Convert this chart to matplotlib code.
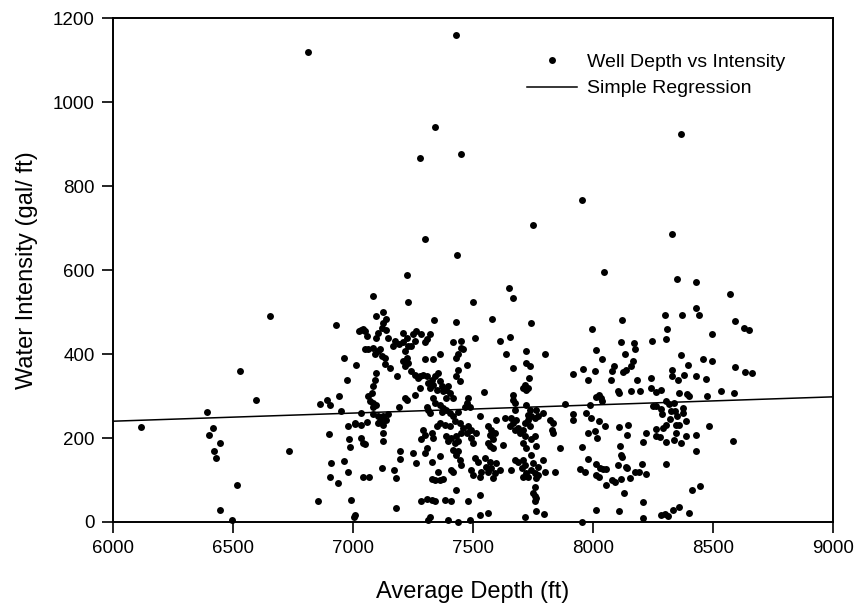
import numpy as np
import matplotlib
matplotlib.use('Agg')
import matplotlib.pyplot as plt

plt.rcParams['font.family'] = ['Liberation Sans', 'DejaVu Sans']

# (average depth ft, water intensity gal/ft)
shallow_wells = [
    (6815, 1120), (6654, 490), (6930, 468), (7026, 455), (6965, 391), (7014, 373),
    (6974, 339), (6530, 360), (6597, 290), (6393, 263), (6117, 226), (6418, 223),
    (6400, 208), (6447, 188), (6422, 168), (6428, 152), (6518, 89), (6446, 29),
    (6497, 4), (6732, 170), (6862, 281), (6892, 290), (6904, 278), (6942, 300),
    (6949, 264), (6899, 210), (6980, 228), (7010, 233), (6985, 198), (6990, 178),
    (6908, 141), (6964, 146), (6979, 119), (6903, 106), (6940, 94), (6855, 49),
    (6992, 53), (7010, 16), (7003, 12),
]
outliers = [
    (7432, 1160), (7342, 940), (7279, 866), (7451, 876), (7954, 767), (7751, 707),
    (7301, 673), (7435, 636), (7226, 589),
]
wells_7000 = [
    (7085, 539), (7230, 525), (7098, 491), (7126, 500), (7137, 484), (7126, 473),
    (7120, 463), (7043, 460), (7032, 457), (7057, 443), (7050, 455), (7105, 451),
    (7098, 439), (7140, 457), (7147, 439), (7175, 431), (7168, 420), (7193, 423),
    (7210, 428), (7217, 407), (7230, 419), (7050, 412), (7064, 411), (7085, 415),
    (7105, 407), (7092, 399), (7120, 396), (7133, 391), (7113, 412), (7133, 376),
    (7154, 367), (7182, 347), (7210, 383), (7217, 371), (7098, 355), (7092, 339),
    (7085, 323), (7078, 307), (7064, 299), (7071, 287), (7085, 283), (7082, 275),
    (7098, 279), (7217, 295), (7193, 274), (7035, 260), (7085, 256), (7105, 252),
    (7126, 252), (7147, 256), (7008, 236), (7036, 232), (7057, 237), (7113, 240),
    (7126, 232), (7105, 235), (7140, 244), (7126, 213), (7036, 201), (7043, 189),
    (7050, 185), (7126, 193), (7198, 169), (7198, 149), (7123, 128), (7043, 107),
    (7068, 108), (7171, 124), (7179, 105), (7179, 33),
]
wells_7250 = [
    (7499, 524), (7340, 481), (7428, 476), (7508, 439), (7210, 449), (7224, 439),
    (7251, 447), (7265, 455), (7258, 431), (7244, 419), (7286, 447), (7300, 428),
    (7307, 435), (7321, 447), (7418, 428), (7452, 431), (7459, 411), (7452, 415),
    (7438, 399), (7431, 391), (7224, 391), (7230, 379), (7300, 387), (7335, 387),
    (7363, 399), (7244, 359), (7258, 351), (7272, 343), (7279, 347), (7293, 351),
    (7307, 347), (7328, 339), (7314, 331), (7335, 327), (7342, 347), (7356, 355),
    (7363, 335), (7370, 323), (7349, 315), (7376, 311), (7390, 315), (7397, 323),
    (7404, 307), (7418, 295), (7390, 295), (7438, 363), (7431, 347), (7446, 335),
    (7474, 375), (7321, 319), (7279, 319), (7224, 291), (7258, 303), (7335, 295),
    (7342, 283), (7363, 279), (7376, 271), (7370, 263), (7390, 267), (7480, 295),
    (7474, 283), (7467, 275), (7488, 275), (7314, 267), (7321, 260), (7307, 275),
    (7404, 260), (7418, 252), (7438, 263), (7363, 236), (7349, 228), (7383, 232),
    (7404, 228), (7425, 240), (7446, 236), (7459, 224), (7480, 228), (7494, 220),
    (7474, 212), (7452, 212), (7293, 220), (7300, 208), (7286, 197), (7328, 212),
    (7335, 200), (7390, 204), (7397, 192), (7425, 188), (7438, 192), (7431, 204),
    (7411, 200), (7494, 200), (7501, 188), (7418, 172), (7431, 160), (7446, 148),
    (7452, 136), (7438, 168), (7307, 176), (7300, 164), (7251, 164), (7265, 140),
    (7328, 144), (7363, 156), (7418, 120), (7411, 124), (7494, 124), (7501, 112),
    (7356, 120), (7328, 102), (7342, 99), (7363, 100), (7376, 102), (7431, 76),
    (7286, 51), (7307, 54), (7328, 53), (7342, 49), (7383, 53), (7411, 50),
    (7480, 50), (7321, 13), (7314, 5), (7397, 5), (7438, 1), (7488, 5),
]
wells_7500 = [
    (7651, 558), (7668, 534), (7582, 483), (7744, 473), (7613, 431), (7654, 441),
    (7640, 399), (7723, 407), (7721, 379), (7738, 371), (7668, 367), (7717, 327),
    (7710, 319), (7735, 343), (7731, 319), (7723, 315), (7547, 309), (7668, 303),
    (7668, 291), (7675, 283), (7723, 279), (7738, 267), (7731, 255), (7744, 252),
    (7731, 244), (7717, 236), (7738, 228), (7765, 267), (7758, 248), (7772, 252),
    (7675, 267), (7661, 248), (7682, 244), (7668, 236), (7654, 228), (7689, 224),
    (7675, 220), (7696, 212), (7710, 220), (7529, 252), (7598, 244), (7633, 248),
    (7515, 212), (7563, 228), (7577, 220), (7570, 208), (7592, 212), (7585, 197),
    (7563, 188), (7570, 180), (7585, 176), (7626, 184), (7717, 204), (7710, 188),
    (7723, 176), (7744, 197), (7758, 204), (7765, 181), (7508, 153), (7522, 144),
    (7550, 153), (7570, 144), (7556, 132), (7577, 128), (7592, 116), (7563, 120),
    (7598, 140), (7613, 124), (7585, 104), (7535, 120), (7529, 108), (7661, 124),
    (7675, 148), (7689, 144), (7710, 148), (7717, 136), (7703, 128), (7723, 116),
    (7710, 108), (7731, 108), (7744, 124), (7751, 140), (7758, 116), (7765, 104),
    (7758, 84), (7751, 69), (7758, 49), (7529, 65), (7529, 17), (7563, 21),
    (7717, 13), (7765, 25),
]
wells_7750 = [
    (7997, 460), (7800, 399), (7918, 353), (7960, 365), (7981, 337), (7883, 282),
    (7793, 260), (7918, 256), (7918, 244), (7821, 244), (7835, 236), (7828, 220),
    (7835, 213), (7972, 260), (7993, 248), (7981, 211), (7863, 176), (7953, 179),
    (7744, 160), (7772, 132), (7793, 148), (7800, 120), (7772, 112), (7842, 120),
    (7946, 126), (7967, 120), (7981, 149), (7758, 61), (7765, 57), (7796, 19),
    (7957, 0),
]
deep_wells = [
    (8369, 924), (8331, 687), (8046, 596), (8349, 578), (8429, 572), (8573, 544),
    (8432, 509), (8443, 494), (8300, 492), (8372, 494), (8122, 481), (8594, 478),
    (8310, 459), (8306, 436), (8630, 461), (8651, 458), (8498, 447), (8247, 432),
    (8117, 428), (8172, 426), (8175, 412), (8015, 409), (8133, 401), (8369, 398),
    (8040, 388), (8169, 384), (8160, 371), (8458, 387), (8495, 383), (8396, 374),
    (8088, 371), (8078, 359), (8126, 358), (8137, 363), (8008, 359), (8331, 361),
    (8331, 347), (8593, 370), (8635, 358), (8665, 355), (8382, 349), (8355, 339),
    (8429, 347), (8473, 341), (8243, 343), (8185, 339), (8074, 339), (8244, 318),
    (8265, 309), (8283, 315), (8159, 313), (8107, 311), (8358, 307), (8394, 305),
    (8400, 299), (8535, 312), (8589, 306), (8015, 298), (8110, 306), (8196, 311),
    (8476, 299), (8306, 288), (8317, 280), (8338, 284), (8025, 303), (8033, 296),
    (8040, 288), (7988, 278), (8251, 276), (8265, 276), (8374, 272), (8286, 268),
    (8327, 264), (8341, 264), (8026, 240), (8050, 228), (8290, 256), (8321, 245),
    (8352, 252), (8376, 260), (8390, 240), (8306, 232), (8345, 232), (8358, 230),
    (8008, 216), (8018, 200), (8110, 226), (8147, 232), (8265, 222), (8293, 224),
    (8485, 228), (8144, 206), (8223, 211), (8265, 204), (8279, 202), (8306, 190),
    (8338, 195), (8348, 211), (8366, 189), (8387, 204), (8429, 207), (8585, 194),
    (8210, 190), (8115, 182), (8119, 160), (8122, 154), (8429, 169), (8015, 139),
    (8306, 139), (8029, 128), (8043, 126), (8054, 126), (8015, 112), (8026, 108),
    (8105, 136), (8137, 132), (8144, 128), (8207, 138), (8175, 120), (8193, 119),
    (8223, 114), (8057, 88), (8078, 99), (8092, 96), (8119, 102), (8157, 104),
    (8130, 69), (8413, 76), (8448, 86), (8210, 47), (8013, 29), (8110, 25),
    (8210, 9), (8283, 17), (8300, 19), (8315, 15), (8335, 29), (8360, 35),
    (8401, 21),
]

# simple regression line end points
reg_depth = [6000, 9000]
reg_intensity = [240, 298]

x_ticks = [6000, 6500, 7000, 7500, 8000, 8500, 9000]
y_ticks = [0, 200, 400, 600, 800, 1000, 1200]

all_wells = shallow_wells + outliers + wells_7000 + wells_7250 + wells_7500 + wells_7750 + deep_wells
depth = np.array([p[0] for p in all_wells], dtype=float)
intensity = np.array([p[1] for p in all_wells], dtype=float)

fig = plt.figure(figsize=(8.55, 6.10), dpi=100)
ax = fig.add_axes([0.132, 0.1443, 0.842, 0.826])

ax.plot(depth, intensity, 'o', color='black', markersize=5.0, markeredgewidth=0,
        linestyle='none', label='Well Depth vs Intensity', clip_on=False, zorder=3)
ax.plot(reg_depth, reg_intensity, '-', color='black', linewidth=1.1, label='Simple Regression')

ax.set_xlim(6000, 9000)
ax.set_ylim(0, 1200)
ax.set_xticks(x_ticks)
ax.set_yticks(y_ticks)
ax.tick_params(direction='out', length=8, width=1.2, labelsize=13.5, top=False, right=False, pad=5)
for s in ax.spines.values():
    s.set_linewidth(1.4)

ax.set_xlabel('Average Depth (ft)', fontsize=17, labelpad=17)
ax.set_ylabel('Water Intensity (gal/ ft)', fontsize=17, labelpad=11)

ax.legend(loc='upper left', bbox_to_anchor=(0.575, 0.93), frameon=False, fontsize=14,
          handlelength=2.6, handletextpad=0.5, borderpad=0, borderaxespad=0, labelspacing=0.45,
          markerscale=1.0)

fig.savefig('out.png', dpi=100)
